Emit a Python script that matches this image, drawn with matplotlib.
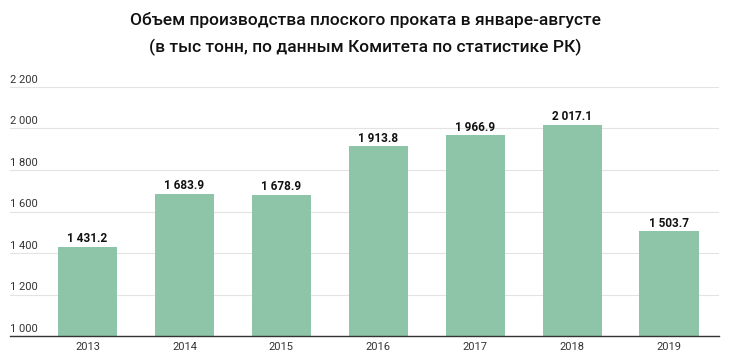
import matplotlib
matplotlib.use('Agg')
import matplotlib.pyplot as plt

years = ["2013", "2014", "2015", "2016", "2017", "2018", "2019"]
volumes = [1431.2, 1683.9, 1678.9, 1913.8, 1966.9, 2017.1, 1503.7]
y_ticks = [1000, 1200, 1400, 1600, 1800, 2000, 2200]

plt.rcParams['font.family'] = ['Roboto', 'DejaVu Sans']


def fmt(v, dec=0):
    s = f"{v:,.{dec}f}"
    return s.replace(",", " ")


fig = plt.figure(figsize=(7.3, 3.59), dpi=100)
ax = fig.add_axes([10 / 730, 1 - 336 / 359, 709 / 730, (336 - 87) / 359])

x = list(range(len(years)))
ax.bar(x, volumes, width=0.61, color="#8ec4a8", zorder=2)

for xi, v in zip(x, volumes):
    ax.text(xi, v + 8, fmt(v, 1), ha="center", va="bottom",
            fontsize=8.5, fontweight="bold", color="#111111")

ax.set_ylim(1000, 2200)
ax.set_xlim(-0.8, 6.516)
ax.set_yticks(y_ticks)
ax.set_yticklabels([])
ax.grid(axis="y", color="#e3e3e3", linewidth=0.8, zorder=0)
ax.tick_params(axis="y", length=0)
ax.tick_params(axis="x", length=0, pad=4, labelsize=8, labelcolor="#333333")
ax.set_xticks(x)
ax.set_xticklabels(years)

for t in y_ticks:
    ax.text(-0.8, t + 12, fmt(t), ha="left", va="bottom",
            fontsize=8, color="#333333")

for s in ["top", "right", "left"]:
    ax.spines[s].set_visible(False)
ax.spines["bottom"].set_color("#333333")
ax.spines["bottom"].set_linewidth(1)

fig.text(0.5, 1 - 20 / 359, "Объем производства плоского проката в январе-августе",
         ha="center", va="center", fontsize=12.5, fontweight="medium", color="#111111")
fig.text(0.5, 1 - 47 / 359, "(в тыс тонн, по данным Комитета по статистике РК)",
         ha="center", va="center", fontsize=12.5, fontweight="medium", color="#111111")

fig.savefig("out.png", dpi=100)
